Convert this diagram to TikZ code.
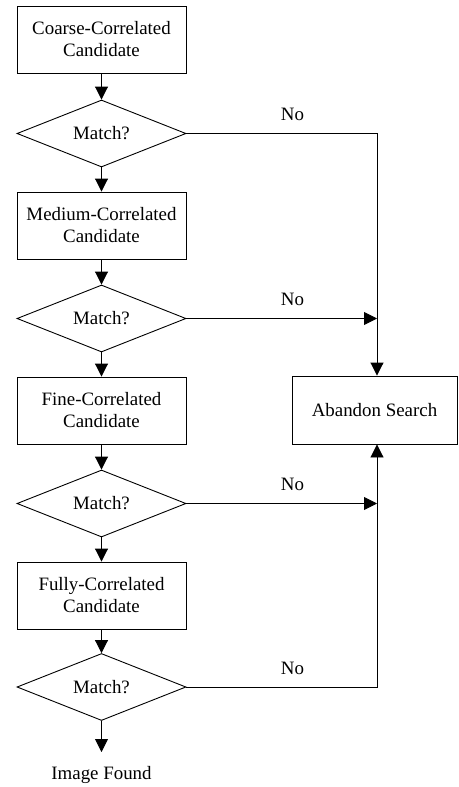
\documentclass[tikz,border=0pt]{standalone}
\usepackage{fontspec}
\setmainfont{Liberation Serif}
\usetikzlibrary{shapes.geometric,arrows.meta}
\begin{document}
\begin{tikzpicture}[x=1pt,y=-1pt,line width=0.9pt,
  txt/.style={font=\fontsize{18.9}{22}\selectfont},
  box/.style={draw, rectangle, minimum width=169pt, minimum height=67pt, inner sep=0pt, align=center, txt},
  dec/.style={draw, diamond, aspect=2.52, minimum width=169pt, minimum height=67pt, inner sep=0pt, txt},
  arr/.style={-{Triangle[length=13pt,width=13pt]}}]
\useasboundingbox (0,0) rectangle (458,787);
\node[box] (b1) at (101.5,39.5) {Coarse-Correlated\\Candidate};
\node[dec] (d1) at (101.5,133.5) {Match?};
\node[box] (b2) at (101.5,225.5) {Medium-Correlated\\Candidate};
\node[dec] (d2) at (101.5,318.5) {Match?};
\node[box] (b3) at (101.5,410.5) {Fine-Correlated\\Candidate};
\node[dec] (d3) at (101.5,503.5) {Match?};
\node[box] (b4) at (101.5,595.5) {Fully-Correlated\\Candidate};
\node[dec] (d4) at (101.5,687) {Match?};
\node[box, minimum width=165pt, minimum height=68pt] (ab) at (374.5,410) {Abandon Search};
\coordinate (vx) at (377,0);
\coordinate (end) at (101.5,752);
\node[txt] (found) at (101.5,775) {Image Found};
\node[txt] (no1) at (292.5,114) {No};
\node[txt] (no2) at (292.5,299) {No};
\node[txt] (no3) at (292.5,484) {No};
\node[txt] (no4) at (292.5,668) {No};
\draw[arr] (b1) -- (d1);
\draw[arr] (d1) -- (b2);
\draw[arr] (b2) -- (d2);
\draw[arr] (d2) -- (b3);
\draw[arr] (b3) -- (d3);
\draw[arr] (d3) -- (b4);
\draw[arr] (b4) -- (d4);
\draw[arr] (d4.south) -- (end);
\draw[arr] (d1.east) -| (ab.north -| vx);
\draw[arr] (d2.east) -- (d2.east -| vx);
\draw[arr] (d3.east) -- (d3.east -| vx);
\draw[arr] (d4.east) -| (ab.south -| vx);
\end{tikzpicture}
\end{document}
